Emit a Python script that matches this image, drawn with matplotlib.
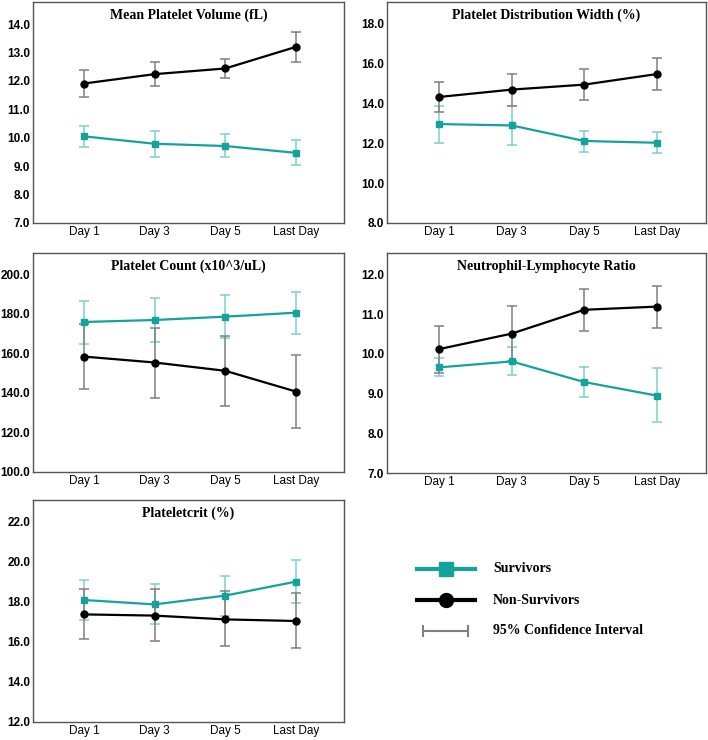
import numpy as np
import matplotlib
matplotlib.use("Agg")
import matplotlib.pyplot as plt

days = ["Day 1", "Day 3", "Day 5", "Last Day"]

titles = ["Mean Platelet Volume (fL)", "Platelet Distribution Width (%)",
          "Platelet Count (x10^3/uL)", "Neutrophil-Lymphocyte Ratio",
          "Plateletcrit (%)"]

# survivors: mean, lower CI, upper CI
surv_mean = [[10.05, 9.79, 9.71, 9.47],
             [12.97, 12.90, 12.12, 12.03],
             [175.9, 176.9, 178.6, 180.6],
             [9.66, 9.81, 9.29, 8.95],
             [18.10, 17.88, 18.32, 19.02]]
surv_lo = [[9.68, 9.34, 9.32, 9.05],
           [12.03, 11.92, 11.58, 11.52],
           [165.0, 166.0, 167.8, 169.7],
           [9.45, 9.46, 8.92, 8.28],
           [17.08, 16.88, 17.30, 17.93]]
surv_hi = [[10.41, 10.25, 10.13, 9.92],
           [13.88, 13.88, 12.63, 12.58],
           [186.7, 187.9, 189.4, 191.2],
           [9.89, 10.17, 9.66, 9.64],
           [19.08, 18.88, 19.32, 20.08]]

# non-survivors
non_mean = [[11.91, 12.24, 12.44, 13.20],
            [14.33, 14.70, 14.95, 15.48],
            [158.4, 155.4, 151.2, 140.7],
            [10.12, 10.51, 11.11, 11.19],
            [17.38, 17.32, 17.13, 17.05]]
non_lo = [[11.43, 11.83, 12.10, 12.67],
          [13.58, 13.88, 14.17, 14.67],
          [141.9, 137.4, 133.5, 122.2],
          [9.51, 9.82, 10.58, 10.64],
          [16.13, 16.03, 15.78, 15.68]]
non_hi = [[12.38, 12.66, 12.77, 13.72],
          [15.10, 15.48, 15.75, 16.28],
          [174.7, 173.1, 169.0, 159.4],
          [10.71, 11.20, 11.64, 11.72],
          [18.63, 18.63, 18.53, 18.43]]

ylims = [(7.0, 14.78), (8.0, 19.1), (100.0, 210.8), (7.0, 12.54), (12.0, 23.1)]
yticks = [np.arange(7, 14.1, 1), np.arange(8, 18.1, 2), np.arange(100, 200.1, 20),
          np.arange(7, 12.1, 1), np.arange(12, 22.1, 2)]

teal = "#14a39c"
teal_ci = "#7fd0cc"
black = "#000000"
gray_ci = "#808080"

W, H = 708, 740
boxes = [(33, 2, 344, 223), (387, 2, 706, 223),
         (33, 253, 344, 472), (387, 253, 706, 473),
         (33, 500, 344, 722)]

fig = plt.figure(figsize=(W / 100, H / 100), dpi=100)
x = np.arange(len(days))

for i, (l, t, r, b) in enumerate(boxes):
    ax = fig.add_axes([l / W, 1 - b / H, (r - l) / W, (b - t) / H])
    sm, sl, sh = np.array(surv_mean[i]), np.array(surv_lo[i]), np.array(surv_hi[i])
    nm, nl, nh = np.array(non_mean[i]), np.array(non_lo[i]), np.array(non_hi[i])
    ax.errorbar(x, sm, yerr=[sm - sl, sh - sm], fmt="none", ecolor=teal_ci,
                elinewidth=1.1, capsize=3.4, capthick=1.1, zorder=2)
    ax.errorbar(x, nm, yerr=[nm - nl, nh - nm], fmt="none", ecolor=gray_ci,
                elinewidth=1.1, capsize=3.4, capthick=1.1, zorder=2)
    ax.plot(x, sm, color=teal, lw=1.6, marker="s", ms=5, zorder=3)
    ax.plot(x, nm, color=black, lw=1.6, marker="o", ms=5, zorder=3)
    ax.set_xlim(-0.72, 3.68)
    ax.set_ylim(*ylims[i])
    ax.set_yticks(yticks[i])
    ax.set_yticklabels(["%.1f" % v for v in yticks[i]], fontweight="bold")
    ax.set_xticks(x)
    ax.set_xticklabels(days)
    ax.tick_params(axis="both", length=0, labelsize=8.5, pad=2)
    for lab in ax.get_yticklabels() + ax.get_xticklabels():
        lab.set_family("Liberation Sans")
    for s in ax.spines.values():
        s.set_color("#555555")
        s.set_linewidth(1.0)
    ax.text(0.5, 0.94, titles[i], transform=ax.transAxes, ha="center", va="center",
            family="Liberation Serif", fontweight="bold", fontsize=10)

# legend area
lg = fig.add_axes([0, 0, 1, 1], facecolor="none")
lg.set_xlim(0, W)
lg.set_ylim(H, 0)
lg.axis("off")
lg.plot([417, 475], [569, 569], color=teal, lw=3)
lg.plot([446], [569], color=teal, marker="s", ms=10)
lg.plot([417, 475], [600, 600], color=black, lw=3)
lg.plot([446], [600], color=black, marker="o", ms=10)
lg.errorbar([445.5], [631], xerr=[[22.5]], fmt="none", ecolor=gray_ci,
            elinewidth=1.5, capsize=4, capthick=1.5)
for yy, txt in zip([569, 600, 631], ["Survivors", "Non-Survivors", "95% Confidence Interval"]):
    lg.text(493, yy, txt, ha="left", va="center", family="Liberation Serif",
            fontweight="bold", fontsize=10)

fig.savefig("out.png", dpi=100)
